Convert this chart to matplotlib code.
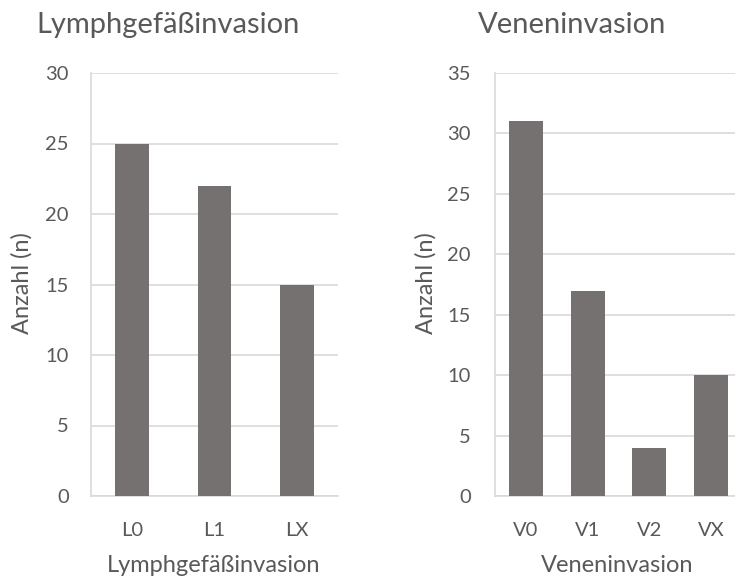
import matplotlib.pyplot as plt

plt.rcParams['font.family'] = ['Lato', 'DejaVu Sans']

# Lymphgefäßinvasion counts
lymph_cats = ['L0', 'L1', 'LX']
lymph_vals = [25, 22, 15]

# Veneninvasion counts
vene_cats = ['V0', 'V1', 'V2', 'VX']
vene_vals = [31, 17, 4, 10]

bar_color = '#767171'
grid_color = '#d9d9d9'
text_color = '#595959'

W, H = 735, 581
fig = plt.figure(figsize=(W / 100, H / 100), dpi=100)
ax1 = fig.add_axes([91 / W, 85 / H, 247 / W, 423 / H])
ax2 = fig.add_axes([495 / W, 85 / H, 247 / W, 423 / H])


def style(ax, cats, vals, width, ymax, pad):
    x = range(len(cats))
    ax.bar(x, vals, width=width, color=bar_color, zorder=3)
    ax.set_xlim(-0.5, len(cats) - 0.5)
    ax.set_ylim(0, ymax)
    ax.set_yticks(range(0, ymax + 1, 5))
    ax.set_xticks(list(x))
    ax.set_xticklabels(cats)
    ax.yaxis.grid(True, color=grid_color, linewidth=1.2, zorder=0)
    for s in ['top', 'right']:
        ax.spines[s].set_visible(False)
    for s in ['left', 'bottom']:
        ax.spines[s].set_color(grid_color)
        ax.spines[s].set_linewidth(1.2)
    ax.tick_params(length=0, labelsize=14.5, colors=text_color)
    ax.tick_params(axis='y', pad=pad)
    ax.tick_params(axis='x', pad=19)


style(ax1, lymph_cats, lymph_vals, 0.41, 30, 16)
style(ax2, vene_cats, vene_vals, 0.55, 35, 17.5)

# titles and axis labels
fig.text(168 / W, 1 - 25 / H, 'Lymphgefäßinvasion', fontsize=21,
         color=text_color, ha='center', va='center')
fig.text(572 / W, 1 - 25 / H, 'Veneninvasion', fontsize=21,
         color=text_color, ha='center', va='center')
fig.text(214 / W, 1 - 566 / H, 'Lymphgefäßinvasion', fontsize=17,
         color=text_color, ha='center', va='center')
fig.text(617 / W, 1 - 566 / H, 'Veneninvasion', fontsize=17,
         color=text_color, ha='center', va='center')
fig.text(22 / W, 1 - 283 / H, 'Anzahl (n)', fontsize=17, rotation=90,
         color=text_color, ha='center', va='center')
fig.text(426 / W, 1 - 283 / H, 'Anzahl (n)', fontsize=17, rotation=90,
         color=text_color, ha='center', va='center')

fig.savefig('out.png', dpi=100)
